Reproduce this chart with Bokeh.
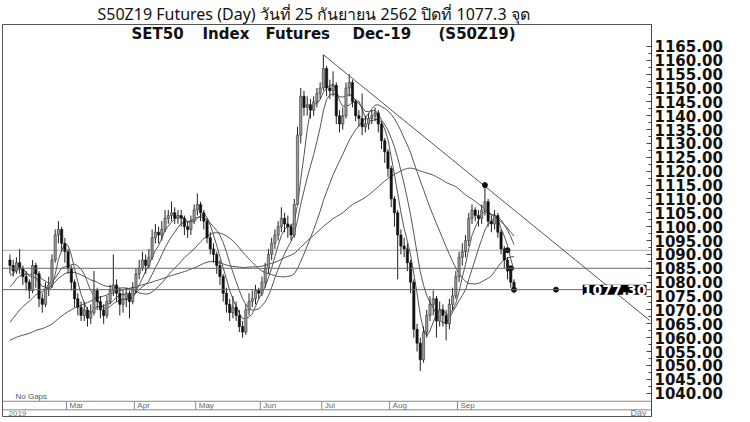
import numpy as np
from bokeh.plotting import figure
from bokeh.models import (Range1d, FixedTicker, PrintfTickFormatter, Label,
                          ColumnDataSource, Span, Title)
from bokeh.embed import file_html
from bokeh.resources import INLINE
from bokeh.core.properties import value

# ---------------- data ----------------
title_text = "S50Z19 Futures (Day) วันที่   25 กันยายน   2562 ปิดที่   1077.3 จุด"
subtitle_parts = ["SET50", "Index", "Futures", "Dec-19", "(S50Z19)"]

months = ["Mar", "Apr", "May", "Jun", "Jul", "Aug", "Sep"]
month_start = [18, 39, 58, 78, 97, 118, 139]

y_ticks = [1040, 1045, 1050, 1055, 1060, 1065, 1070, 1075, 1080, 1085, 1090,
           1095, 1100, 1105, 1110, 1115, 1120, 1125, 1130, 1135, 1140, 1145,
           1150, 1155, 1160, 1165]

# closes before the visible window (only used to seed the moving averages)
prior_close = [1062, 1058, 1060, 1064, 1066, 1063, 1059, 1061, 1057, 1055,
               1058, 1054, 1052, 1055, 1051, 1048, 1050, 1046, 1049, 1045,
               1043, 1047, 1044, 1041, 1046,
               1043, 1047, 1050, 1048, 1052, 1055, 1053, 1057, 1054, 1058,
               1061, 1059, 1063, 1066, 1064, 1068, 1072, 1070, 1075, 1078,
               1076, 1081, 1079, 1084, 1082]

first_open = 1088

close_feb = [1086, 1084, 1087, 1085, 1082, 1080, 1077, 1086, 1083, 1074, 1072, 1078, 1079, 1088, 1097, 1099, 1094, 1091]
close_mar = [1085, 1080, 1074, 1071, 1068, 1070, 1067, 1069, 1077, 1073, 1070, 1068, 1073, 1077, 1079, 1076, 1072, 1074, 1076, 1073, 1078]
close_apr = [1083, 1085, 1088, 1086, 1089, 1096, 1098, 1097, 1099, 1103, 1104, 1105, 1103, 1104, 1103, 1100, 1099, 1102, 1106]
close_may = [1108, 1105, 1102, 1096, 1092, 1090, 1086, 1082, 1076, 1072, 1069, 1071, 1068, 1064, 1062, 1070, 1073, 1074, 1077, 1076]
close_jun = [1080, 1085, 1090, 1094, 1097, 1100, 1103, 1101, 1100, 1097, 1108, 1133, 1147, 1143, 1144, 1142, 1145, 1148, 1150]
close_jul = [1157, 1150, 1149, 1151, 1140, 1137, 1140, 1150, 1152, 1145, 1140, 1139, 1136, 1137, 1139, 1140, 1141, 1137, 1131, 1127, 1121]
close_aug = [1110, 1105, 1097, 1093, 1092, 1087, 1080, 1063, 1058, 1052, 1062, 1068, 1072, 1074, 1066, 1070, 1068, 1065, 1072, 1075, 1082]
close_sep = [1089, 1091, 1095, 1103, 1106, 1104, 1103, 1106, 1109, 1102, 1101, 1104, 1098, 1092, 1088, 1084, 1080, 1077.3]

high_feb = [1090, 1088, 1089, 1092, 1086, 1084, 1081, 1088, 1087, 1084, 1076, 1080, 1082, 1090, 1099, 1102, 1100, 1096]
low_feb = [1083, 1082, 1083, 1083, 1079, 1077, 1074, 1076, 1078, 1071, 1069, 1071, 1075, 1078, 1087, 1094, 1091, 1087]
high_mar = [1092, 1086, 1081, 1076, 1073, 1073, 1071, 1072, 1084, 1078, 1075, 1072, 1075, 1079, 1090, 1081, 1078, 1077, 1078, 1077, 1080]
low_mar = [1083, 1077, 1071, 1068, 1066, 1066, 1064, 1065, 1068, 1070, 1067, 1065, 1067, 1072, 1075, 1073, 1068, 1069, 1071, 1067, 1072]
high_apr = [1085, 1088, 1091, 1090, 1092, 1099, 1101, 1100, 1102, 1106, 1106, 1109, 1107, 1106, 1106, 1104, 1102, 1104, 1108]
low_apr = [1076, 1081, 1084, 1083, 1085, 1088, 1094, 1094, 1095, 1098, 1101, 1102, 1101, 1101, 1100, 1097, 1096, 1097, 1101]
high_may = [1112, 1109, 1106, 1103, 1098, 1094, 1091, 1088, 1083, 1078, 1074, 1075, 1073, 1070, 1066, 1072, 1076, 1077, 1079, 1078]
low_may = [1104, 1102, 1099, 1094, 1090, 1087, 1083, 1079, 1073, 1069, 1066, 1067, 1066, 1062, 1060, 1061, 1068, 1071, 1072, 1074]
high_jun = [1082, 1087, 1092, 1096, 1099, 1102, 1107, 1105, 1104, 1101, 1110, 1136, 1150, 1149, 1147, 1146, 1147, 1150, 1152]
low_jun = [1075, 1078, 1083, 1088, 1092, 1095, 1098, 1098, 1096, 1095, 1096, 1108, 1130, 1140, 1140, 1139, 1140, 1143, 1146]
high_jul = [1162, 1158, 1153, 1156, 1152, 1142, 1143, 1152, 1155, 1153, 1146, 1142, 1148, 1140, 1141, 1142, 1143, 1142, 1138, 1132, 1128]
low_jul = [1149, 1147, 1146, 1147, 1137, 1134, 1135, 1139, 1147, 1143, 1138, 1136, 1133, 1134, 1135, 1137, 1138, 1134, 1128, 1123, 1118]
high_aug = [1122, 1111, 1106, 1099, 1096, 1094, 1088, 1081, 1065, 1060, 1064, 1070, 1075, 1077, 1075, 1073, 1072, 1070, 1074, 1078, 1084]
low_aug = [1107, 1100, 1081, 1090, 1089, 1084, 1076, 1060, 1055, 1048, 1051, 1060, 1066, 1068, 1060, 1064, 1064, 1059, 1063, 1070, 1074]
high_sep = [1091, 1094, 1097, 1105, 1108, 1107, 1106, 1108, 1115, 1110, 1104, 1106, 1105, 1099, 1093, 1089, 1085, 1081]
low_sep = [1080, 1086, 1089, 1093, 1101, 1102, 1100, 1101, 1104, 1100, 1098, 1099, 1096, 1090, 1085, 1081, 1078, 1076]

ma_periods = [5, 10, 25, 50]

h_dotted = 1091.5
h_solid = 1085.0
last_close = 1077.3

trend_x = [97, 198]
trend_y = [1162.0, 1066.2]

marker_x = [147, 156, 169, 154, 155]
marker_y = [1115.0, 1077.3, 1077.3, 1091.5, 1085.0]

# ---------------- assemble ----------------
close = close_feb + close_mar + close_apr + close_may + close_jun + close_jul + close_aug + close_sep
high = high_feb + high_mar + high_apr + high_may + high_jun + high_jul + high_aug + high_sep
low = low_feb + low_mar + low_apr + low_may + low_jun + low_jul + low_aug + low_sep
n = len(close)
idx = list(range(n))
opn = [first_open] + close[:-1]

inc = [c >= o for o, c in zip(opn, close)]
src_up = ColumnDataSource(dict(
    x=[i for i in idx if inc[i]],
    top=[max(opn[i], close[i]) for i in idx if inc[i]],
    bot=[min(opn[i], close[i]) for i in idx if inc[i]]))
src_dn = ColumnDataSource(dict(
    x=[i for i in idx if not inc[i]],
    top=[max(opn[i], close[i]) for i in idx if not inc[i]],
    bot=[min(opn[i], close[i]) for i in idx if not inc[i]]))

full = np.array(prior_close + close, dtype=float)
npr = len(prior_close)
csum = np.concatenate([[0.0], np.cumsum(full)])


def sma(k):
    return [(csum[npr + i + 1] - csum[npr + i + 1 - k]) / k for i in range(n)]


W, H = 750, 422
X0, X1 = -2.306, 198.56
p = figure(width=W, height=H,
           x_range=Range1d(X0, X1), y_range=Range1d(1031.57, 1172.89),
           y_axis_location="right", x_axis_location=None,
           toolbar_location=None, output_backend="svg",
           min_border_left=2, min_border_right=99,
           min_border_top=22, min_border_bottom=6)
p.xgrid.visible = False
p.ygrid.visible = False
p.outline_line_color = "#555555"
p.background_fill_color = "white"
p.border_fill_color = "white"

p.add_layout(Title(text=title_text, align="left", offset=95, standoff=0,
                   text_font="Noto Sans", text_font_size="16px",
                   text_font_style="normal", text_color="#111111"), "above")

ax = p.yaxis[0]
ax.ticker = FixedTicker(ticks=y_ticks,
                        minor_ticks=[t + 2.5 for t in y_ticks[:-1]])
ax.formatter = PrintfTickFormatter(format="%.2f")
ax.major_label_text_font = "DejaVu Sans"
ax.major_label_text_font_style = "bold"
ax.major_label_text_font_size = "15px"
ax.major_label_text_color = "#111111"
ax.major_label_standoff = 3
ax.major_tick_in = 5
ax.major_tick_out = 0
ax.minor_tick_in = 3
ax.minor_tick_out = 0
ax.axis_line_color = "#444444"
ax.major_tick_line_color = "#444444"
ax.minor_tick_line_color = "#444444"

# horizontal reference lines
p.add_layout(Span(location=h_dotted, dimension="width", line_color="#555555",
                  line_width=1, line_dash="1 1"))
p.add_layout(Span(location=h_solid, dimension="width", line_color="#666666", line_width=1))
p.add_layout(Span(location=last_close, dimension="width", line_color="#666666", line_width=1))

# moving averages
for k in ma_periods:
    p.line(idx, sma(k), line_color="#555555", line_width=1)

# candles
p.segment(x0=idx, y0=low, x1=idx, y1=high, line_color="#222222", line_width=1)
p.vbar(x="x", width=0.7, top="top", bottom="bot", source=src_up,
       fill_color="#9a9a9a", line_color="#333333", line_width=0.6)
p.vbar(x="x", width=0.7, top="top", bottom="bot", source=src_dn,
       fill_color="#111111", line_color="#111111", line_width=0.6)

# trend line
p.line(trend_x, trend_y, line_color="#555555", line_width=1)

# markers
p.scatter(marker_x, marker_y, size=5, fill_color="#111111", line_color="#111111")

# bottom month band
band_top = 1037.06
band_bot = 1033.98
p.segment(x0=[X0, X0], y0=[band_top, band_bot], x1=[X1, X1],
          y1=[band_top, band_bot], line_color="#888888", line_width=1)
sep_x = [m - 0.5 for m in month_start]
p.segment(x0=sep_x, y0=[band_bot] * len(sep_x), x1=sep_x, y1=[band_top] * len(sep_x),
          line_color="#888888", line_width=1)
p.text(x=sep_x, y=[(band_top + band_bot) / 2] * len(sep_x), text=months,
       x_offset=3, text_font=value("Liberation Sans"), text_font_size="8px",
       text_color="#666666", text_baseline="middle", text_align="left")

sub_x = [129, 200, 263, 350, 436]
for t, x in zip(subtitle_parts, sub_x):
    p.add_layout(Label(x=x, y=1169.6, x_units="screen", y_units="data", text=t,
                       text_font="DejaVu Sans", text_font_style="bold", text_font_size="15px",
                       text_color="#111111", text_align="left", text_baseline="middle"))

# last-close tag (kept inside the frame, next to the price axis)
p.add_layout(Label(x=X1, y=last_close, x_units="data", y_units="data", text="1077.30",
                   x_offset=-5, text_font="DejaVu Sans", text_font_style="bold",
                   text_font_size="14px", text_color="white", background_fill_color="black",
                   text_align="right", text_baseline="middle"))
p.add_layout(Label(x=644, y=4, x_units="screen", y_units="screen", text="Day",
                   text_font="Liberation Sans", text_font_size="9px",
                   text_color="#777777", text_align="right", text_baseline="middle"))
p.add_layout(Label(x=13, y=20, x_units="screen", y_units="screen", text="No Gaps",
                   text_font="Liberation Sans", text_font_size="8px",
                   text_color="#555555", text_align="left", text_baseline="middle"))
p.add_layout(Label(x=6, y=3, x_units="screen", y_units="screen", text="2019",
                   text_font="Liberation Sans", text_font_size="8px",
                   text_color="#777777", text_align="left", text_baseline="middle"))

open("out.html", "w").write(file_html(p, INLINE))
